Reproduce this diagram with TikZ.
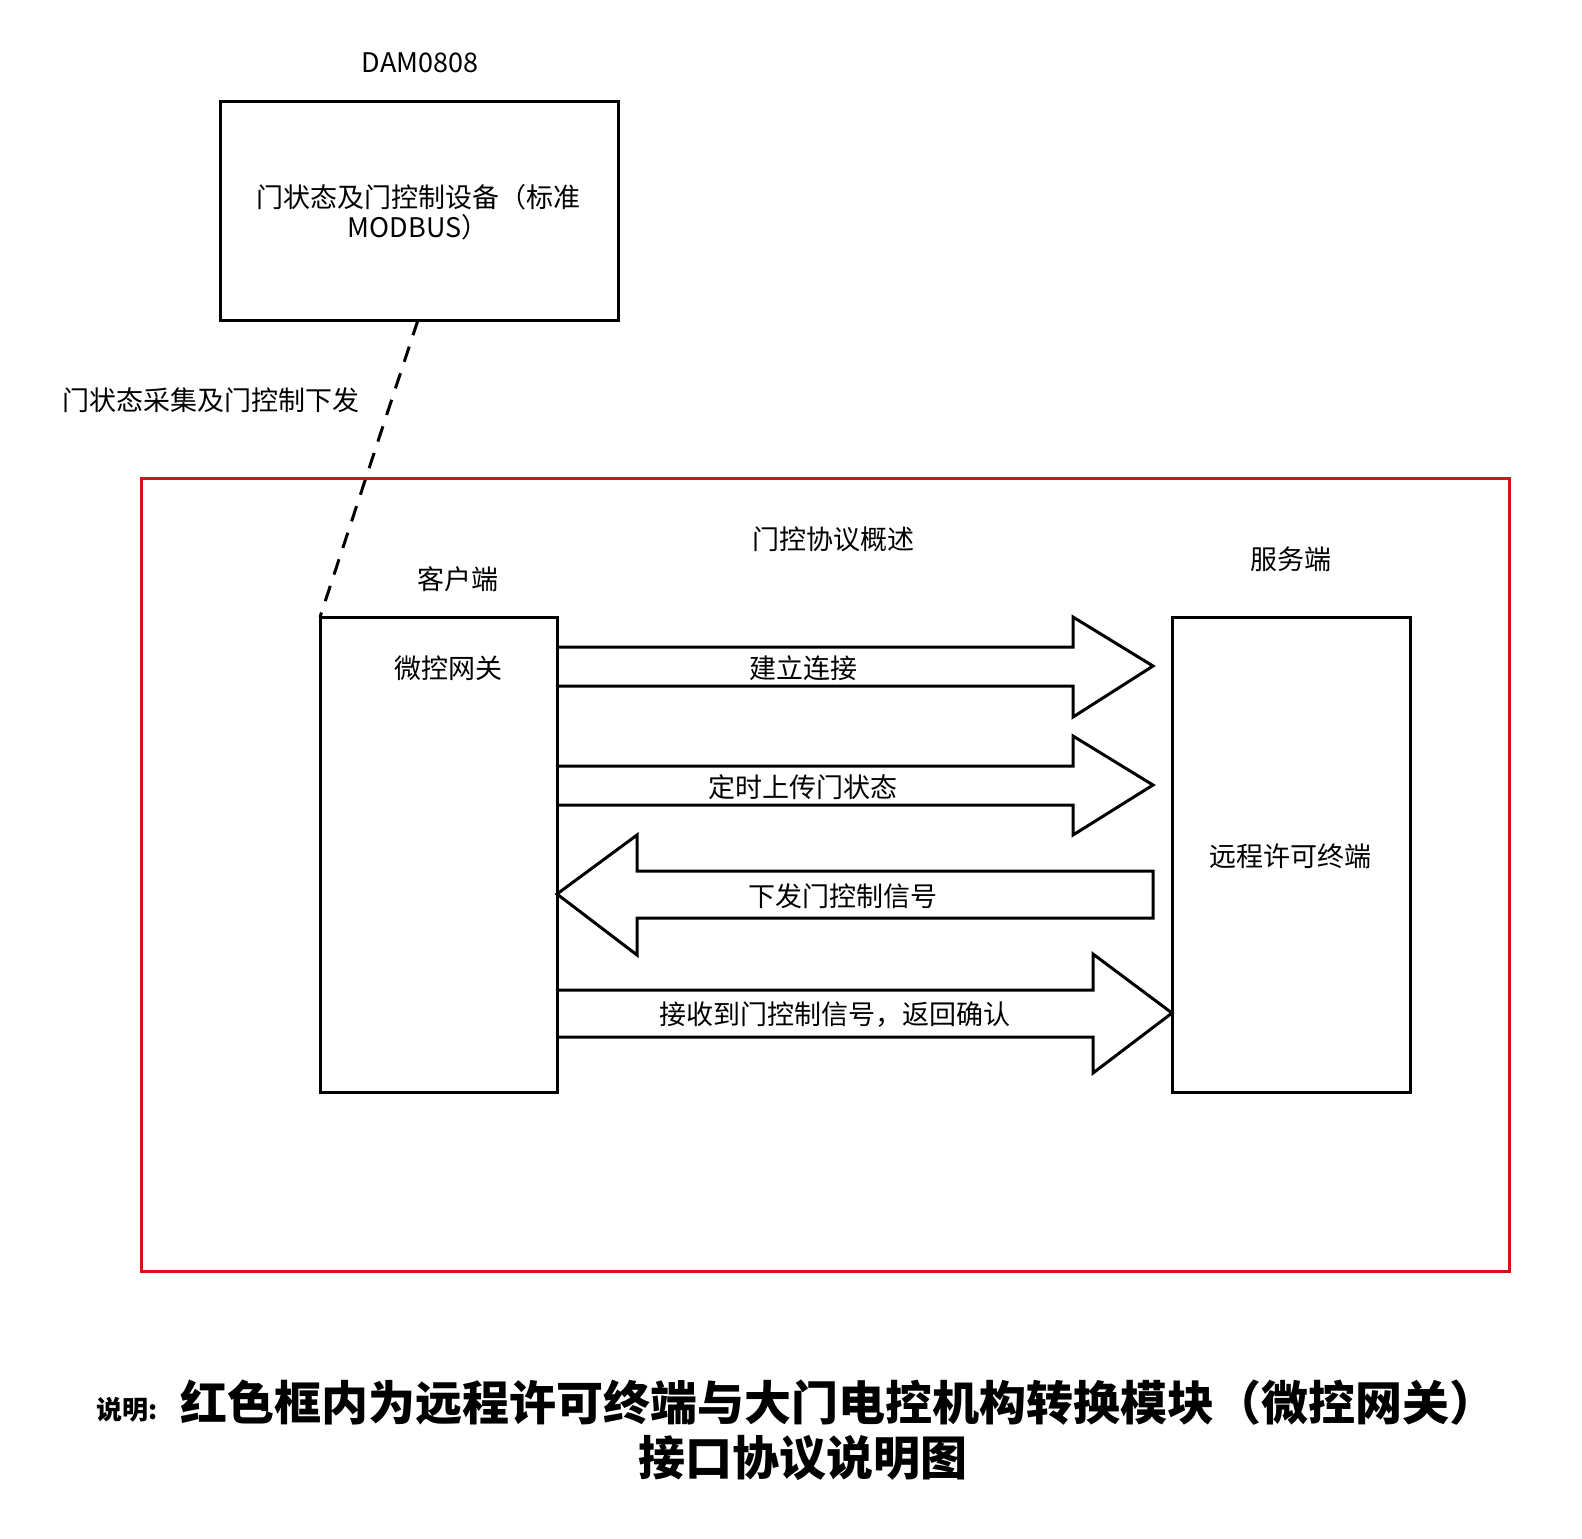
\documentclass[tikz,border=0pt]{standalone}
\usepackage{fontspec}
\setmainfont{Noto Sans CJK SC}
\begin{document}
\begin{tikzpicture}[x=0.5pt,y=-0.5pt,
  box/.style={draw,line width=1.5pt},
  arr/.style={draw,line width=1.5pt,fill=white,line join=miter},
  lbl/.style={font=\fontsize{13.5}{15}\selectfont,inner sep=0pt}]
\useasboundingbox (0,0) rectangle (1582,1538);
\node[lbl] (dam) at (420,63) {DAM0808};
\draw[box] (220,101) rectangle (618,320);
\node[lbl,align=center] (dev) at (418,212) {门状态及门控制设备（标准\\MODBUS）};
\coordinate (devb) at (418,320);
\coordinate (clt) at (320,617);
\draw[line width=1.5pt,dash pattern=on 8pt off 6pt] (devb) -- (clt);
\node[lbl] (coll) at (211,400) {门状态采集及门控制下发};
\draw[draw={rgb,255:red,210;green,20;blue,25},line width=1.5pt] (141,478) rectangle (1509,1271);
\node[lbl] (title) at (833,539) {门控协议概述};
\node[lbl] (ct) at (458,579) {客户端};
\node[lbl] (st) at (1291,559) {服务端};
\draw[arr] (557,647) -- (1073,647) -- (1073,617) -- (1153,666) -- (1073,717) -- (1073,686) -- (557,686);
\draw[arr] (557,766) -- (1073,766) -- (1073,736) -- (1153,785) -- (1073,835) -- (1073,805) -- (557,805);
\draw[arr] (1153,871) -- (637,871) -- (637,835) -- (557,894) -- (637,955) -- (637,918) -- (1153,918) -- cycle;
\draw[arr] (557,990) -- (1093,990) -- (1093,954) -- (1172,1013) -- (1093,1073) -- (1093,1037) -- (557,1037);
\draw[box] (320,617) rectangle (557,1092);
\node[lbl] (gw) at (448,668) {微控网关};
\draw[box] (1172,617) rectangle (1410,1092);
\node[lbl] (term) at (1290,856) {远程许可终端};
\node[lbl] (a1) at (803,668) {建立连接};
\node[lbl] (a2) at (803,787) {定时上传门状态};
\node[lbl] (a3) at (843,896) {下发门控制信号};
\node[lbl] (a4) at (835,1015) {接收到门控制信号，返回确认};
\node[font=\bfseries\fontsize{13}{15}\selectfont,inner sep=0pt,anchor=west] (sm) at (96,1410) {说明:};
\node[font=\bfseries\fontsize{23.5}{26}\selectfont,inner sep=0pt,anchor=west] (t1) at (180,1403) {红色框内为远程许可终端与大门电控机构转换模块（微控网关）};
\node[font=\bfseries\fontsize{23.5}{26}\selectfont,inner sep=0pt] (t2) at (803,1458) {接口协议说明图};
\end{tikzpicture}
\end{document}
